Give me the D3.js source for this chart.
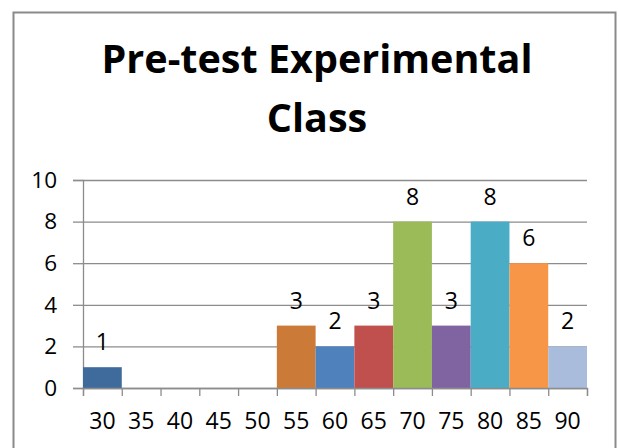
<!DOCTYPE html>
<html><head><meta charset="utf-8">
<script src="https://cdn.jsdelivr.net/npm/d3@7"></script>
<style>html,body{margin:0;padding:0;background:#fff;overflow:hidden}</style>
</head><body>
<script>
const titleLines = ["Pre-test Experimental", "Class"];
const categories = ["30","35","40","45","50","55","60","65","70","75","80","85","90"];
const values = [1,0,0,0,0,3,2,3,8,3,8,6,2];
const colors = ["#3F6A9C","#4F81BD","#C0504D","#9BBB59","#8064A2","#CC7A38","#4F81BD","#C0504D","#9BBB59","#8064A2","#4BACC6","#F79646","#A9BCDC"];
const yTicks = [0,2,4,6,8,10];

const W = 619, H = 448;
const svg = d3.select("body").append("svg").attr("width", W).attr("height", H);
svg.append("rect").attr("width", W).attr("height", H).attr("fill", "#fff");
svg.append("rect").attr("x", 13.5).attr("y", 12.5).attr("width", 602).attr("height", 460)
  .attr("fill", "none").attr("stroke", "#8a8a8a").attr("stroke-width", 2);

const mLeft = 83, mRight = 587, mTop = 180, mBottom = 388;
const x = d3.scaleBand().domain(categories).range([mLeft, mRight]).padding(0);
const y = d3.scaleLinear().domain([0, 10]).range([mBottom, mTop]);
const font = "'Open Sans', 'Liberation Sans', sans-serif";

// title
const title = svg.append("g");
titleLines.forEach((t, i) => {
  title.append("text").attr("x", 317).attr("y", 72.5 + i * 59)
    .attr("text-anchor", "middle").attr("font-family", font).attr("font-weight", "bold")
    .attr("font-size", 38).attr("fill", "#000").text(t);
});
{
  const t0 = title.select("text").node();
  const w = t0.getComputedTextLength();
  const fs = 38 * 431 / w;
  const finalFs = Math.min(fs, 40);
  title.selectAll("text").attr("font-size", finalFs);
}

// gridlines
const grid = svg.append("g").attr("transform", `translate(${mLeft},0)`)
  .call(d3.axisLeft(y).tickValues(yTicks).tickSize(-(mRight - mLeft)).tickFormat(""));
grid.select(".domain").remove();
grid.selectAll(".tick line").attr("stroke", "#8c8c8c").attr("stroke-width", 1.3);

// y axis
const ya = svg.append("g").attr("transform", `translate(${mLeft},0)`)
  .call(d3.axisLeft(y).tickValues(yTicks).tickSize(10).tickPadding(16));
ya.select(".domain").attr("stroke", "#8c8c8c").attr("stroke-width", 1.3);
ya.selectAll(".tick line").attr("stroke", "#8c8c8c").attr("stroke-width", 1.3);
ya.selectAll(".tick text").attr("font-family", font).attr("font-size", 22.5).attr("fill", "#000");

// bars
svg.append("g").selectAll("rect").data(values).join("rect")
  .attr("x", (d, i) => x(categories[i]))
  .attr("y", d => y(d))
  .attr("width", x.bandwidth())
  .attr("height", d => y(0) - y(d))
  .attr("fill", (d, i) => colors[i]);

// data labels
svg.append("g").selectAll("text").data(values.map((v, i) => ({v, c: categories[i]})).filter(d => d.v > 0))
  .join("text")
  .attr("x", d => x(d.c) + x.bandwidth() / 2)
  .attr("y", d => y(d.v) - 25)
  .attr("dy", "0.35em")
  .attr("text-anchor", "middle").attr("font-family", font).attr("font-size", 23).attr("fill", "#000")
  .text(d => d.v);

// x axis: boundary ticks
const xBound = d3.scaleLinear().domain([0, categories.length]).range([mLeft, mRight]);
const xa = svg.append("g").attr("transform", `translate(0,${mBottom})`)
  .call(d3.axisBottom(xBound).tickValues(d3.range(categories.length + 1)).tickSize(8).tickFormat(""));
xa.select(".domain").attr("stroke", "#8c8c8c").attr("stroke-width", 1.3);
xa.selectAll(".tick line").attr("stroke", "#8c8c8c").attr("stroke-width", 1.3);

// x labels
const xl = svg.append("g").attr("transform", `translate(0,${mBottom})`)
  .call(d3.axisBottom(x).tickSize(0).tickPadding(25));
xl.select(".domain").remove();
xl.selectAll(".tick text").attr("font-family", font).attr("font-size", 23).attr("fill", "#000");
</script>
</body></html>
